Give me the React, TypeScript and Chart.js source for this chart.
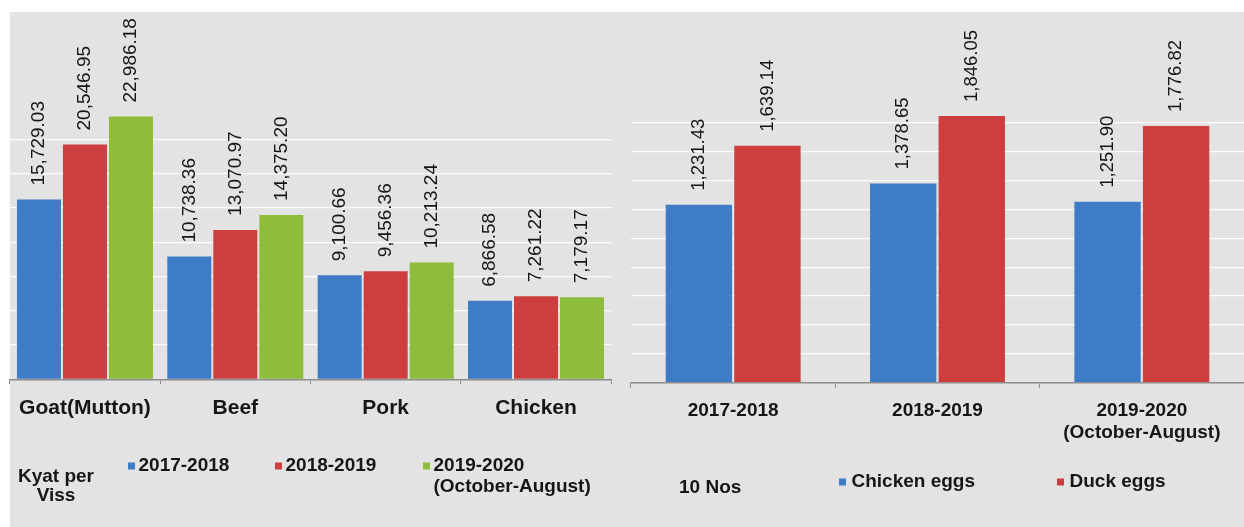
import React, { useEffect, useRef } from "react";
import { Chart, registerables } from "chart.js";

Chart.register(...registerables);

// ---------- data ----------
const meatCategories = ["Goat(Mutton)", "Beef", "Pork", "Chicken"];
const meatSeries = ["2017-2018", "2018-2019", "2019-2020\n(October-August)"];
const meat2017 = [15729.03, 10738.36, 9100.66, 6866.58];
const meat2018 = [20546.95, 13070.97, 9456.36, 7261.22];
const meat2019 = [22986.18, 14375.2, 10213.24, 7179.17];
const meatUnit = ["Kyat per", "Viss"];

const eggCategories = [["2017-2018"], ["2018-2019"], ["2019-2020", "(October-August)"]];
const eggSeries = ["Chicken eggs", "Duck eggs"];
const chickenEggs = [1231.43, 1378.65, 1251.9];
const duckEggs = [1639.14, 1846.05, 1776.82];
const eggUnit = ["10 Nos"];

const BLUE = "#3e7cc8";
const RED = "#cf3e3f";
const GREEN = "#8dbd3b";
const FONT = '"Liberation Sans", Arial, Helvetica, sans-serif';
const TEXT = "#161616";

const fmt = (v: number) =>
  v.toLocaleString("en-US", { minimumFractionDigits: 2, maximumFractionDigits: 2 });

// rotated value labels above each bar
const valueLabels = {
  id: "valueLabels",
  afterDatasetsDraw(chart: any) {
    const o = chart.options.plugins.valueLabels;
    const ctx = chart.ctx;
    ctx.save();
    ctx.font = `${o.size}px ${FONT}`;
    ctx.fillStyle = TEXT;
    ctx.textAlign = "left";
    ctx.textBaseline = "middle";
    chart.data.datasets.forEach((ds: any, i: number) => {
      const meta = chart.getDatasetMeta(i);
      meta.data.forEach((bar: any, j: number) => {
        ctx.save();
        ctx.translate(bar.x, bar.y - o.gap);
        ctx.rotate(-Math.PI / 2);
        ctx.fillText(fmt(ds.data[j]), 0, 0);
        ctx.restore();
      });
    });
    ctx.restore();
  },
};

// legend drawn under the axis, with unit caption
const sideLegend = {
  id: "sideLegend",
  afterDraw(chart: any) {
    const o = chart.options.plugins.sideLegend;
    const ctx = chart.ctx;
    ctx.save();
    ctx.font = `bold ${o.size}px ${FONT}`;
    ctx.textBaseline = "middle";
    ctx.fillStyle = TEXT;
    ctx.textAlign = o.unitAlign;
    o.unit.forEach((line: string, k: number) => {
      ctx.fillText(line, o.unitX, o.unitY + k * o.unitGap);
    });
    chart.data.datasets.forEach((ds: any, i: number) => {
      const p = o.items[i];
      ctx.fillStyle = ds.backgroundColor;
      ctx.fillRect(p.x, p.y - 3.5, 7, 7);
      ctx.fillStyle = TEXT;
      ctx.textAlign = "left";
      String(ds.label)
        .split("\n")
        .forEach((line: string, k: number) => {
          ctx.fillText(line, p.x + o.textGap, p.y + k * o.lineGap);
        });
    });
    ctx.restore();
  },
};

function makeScales(max: number, step: number, tickFont: number) {
  return {
    x: {
      grid: { drawOnChartArea: false, tickLength: 5, color: "#8c8c8c" },
      border: { color: "#8c8c8c", width: 1.5 },
      ticks: {
        color: TEXT,
        font: { size: tickFont, weight: "bold", family: FONT, lineHeight: 1.16 },
        padding: 12,
        autoSkip: false,
        maxRotation: 0,
        minRotation: 0,
      },
      afterFit: (s: any) => {
        s.height = 60;
      },
    },
    y: {
      min: 0,
      max,
      ticks: { display: false, stepSize: step },
      grid: {
        drawTicks: false,
        lineWidth: 1.2,
        color: (c: any) =>
          c.tick && (c.tick.value === max || c.tick.value === 0) ? "rgba(0,0,0,0)" : "rgba(255,255,255,0.95)",
      },
      border: { display: false },
      afterFit: (s: any) => {
        s.width = 0;
      },
    },
  };
}

export default function App() {
  const leftRef = useRef<HTMLCanvasElement>(null);
  const rightRef = useRef<HTMLCanvasElement>(null);

  useEffect(() => {
    const left = new Chart(leftRef.current as HTMLCanvasElement, {
      type: "bar",
      data: {
        labels: meatCategories,
        datasets: [
          { label: meatSeries[0], data: meat2017, backgroundColor: BLUE },
          { label: meatSeries[1], data: meat2018, backgroundColor: RED },
          { label: meatSeries[2], data: meat2019, backgroundColor: GREEN },
        ],
      },
      options: {
        responsive: false,
        animation: false,
        datasets: { bar: { categoryPercentage: 0.918, barPercentage: 0.957 } },
        layout: { padding: { left: 9.8, right: 8.8, top: 105, bottom: 87.7 } },
        plugins: {
          legend: { display: false },
          tooltip: { enabled: false },
          valueLabels: { size: 19, gap: 14 },
          sideLegend: {
            size: 19,
            unit: meatUnit,
            unitAlign: "center",
            unitX: 56,
            unitY: 477,
            unitGap: 18.5,
            textGap: 10.5,
            lineGap: 21,
            items: [
              { x: 128, y: 466 },
              { x: 275, y: 466 },
              { x: 423, y: 466 },
            ],
          },
        } as any,
        scales: makeScales(24000, 3000, 21) as any,
      },
      plugins: [valueLabels, sideLegend],
    });

    const right = new Chart(rightRef.current as HTMLCanvasElement, {
      type: "bar",
      data: {
        labels: eggCategories,
        datasets: [
          { label: eggSeries[0], data: chickenEggs, backgroundColor: BLUE },
          { label: eggSeries[1], data: duckEggs, backgroundColor: RED },
        ],
      },
      options: {
        responsive: false,
        animation: false,
        datasets: { bar: { categoryPercentage: 0.671, barPercentage: 0.968 } },
        layout: { padding: { left: 11, right: 0, top: 93.7, bottom: 84.3 } },
        plugins: {
          legend: { display: false },
          tooltip: { enabled: false },
          valueLabels: { size: 18.5, gap: 14 },
          sideLegend: {
            size: 19,
            unit: eggUnit,
            unitAlign: "left",
            unitX: 59,
            unitY: 488,
            unitGap: 18.5,
            textGap: 12.5,
            lineGap: 21,
            items: [
              { x: 219, y: 482 },
              { x: 437, y: 482 },
            ],
          },
        } as any,
        scales: makeScales(2000, 200, 19) as any,
      },
      plugins: [valueLabels, sideLegend],
    });

    return () => {
      left.destroy();
      right.destroy();
    };
  }, []);

  return (
    <div
      style={{
        position: "absolute",
        left: 0,
        top: 0,
        width: 1244,
        height: 527,
        background: "#ffffff",
        overflow: "hidden",
      }}
    >
      <div
        style={{
          position: "absolute",
          left: 10,
          top: 12,
          right: 0,
          bottom: 0,
          background: "#e3e3e3",
        }}
      />
      <canvas
        ref={leftRef}
        width={620}
        height={527}
        style={{ position: "absolute", left: 0, top: 0, width: 620, height: 527 }}
      />
      <canvas
        ref={rightRef}
        width={624}
        height={527}
        style={{ position: "absolute", left: 620, top: 0, width: 624, height: 527 }}
      />
    </div>
  );
}
